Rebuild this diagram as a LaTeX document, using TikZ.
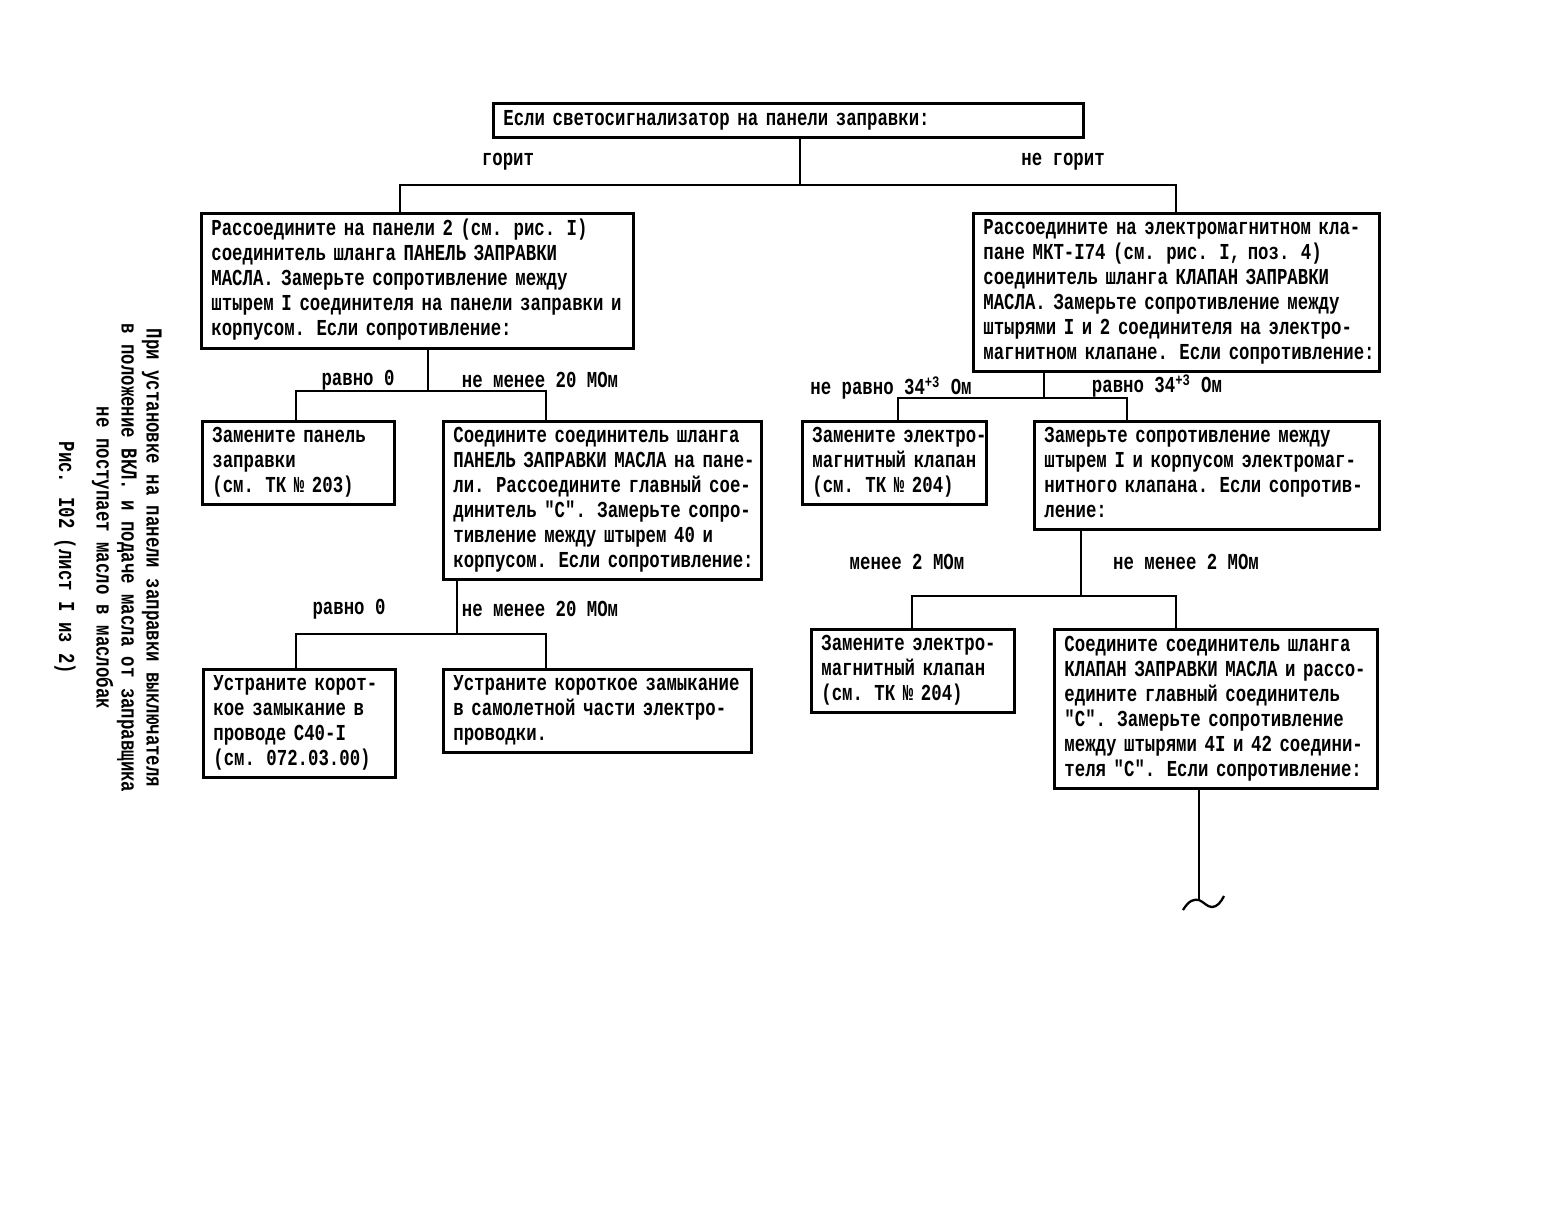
\documentclass[tikz,border=0pt]{standalone}
\usepackage{fontspec}
\newfontfamily\tw[FakeStretch=0.76]{Liberation Mono}
\newcommand{\twfont}{\tw\bfseries\fontsize{13}{14.23}\selectfont}
\newcommand{\boxtext}[1]{\begin{tabular}{@{}l@{}}#1\end{tabular}}

\tikzset{
  box/.style={draw, line width=1.6pt, anchor=north west, inner xsep=0.2cm,
    inner ysep=0pt, align=left, font=\twfont},
  lbl/.style={font=\twfont, inner sep=0pt},
  link/.style={line width=1.3pt},
}

\begin{document}
\begin{tikzpicture}[x=0.02cm, y=-0.02cm]
\useasboundingbox (0,0) rectangle (1544,1205);

% caption on the left
\node[lbl, rotate=-90, align=center] (cap) at (108,558)
  {При установке на панели заправки выключателя\\
   в положение ВКЛ. и подаче масла от заправщика\\
   не поступает масло в маслобак\\[0.25cm]
   Рис. I02 (лист I из 2)};

% first question
\node[box, text width=11.4cm, minimum height=0.68cm] (t0) at (492,102)
  {\boxtext{Если светосигнализатор на панели заправки:}};

\node[lbl] (yes) at (508,162) {горит};
\node[lbl] (no) at (1063,162) {не горит};

% left branch
\node[box, text width=8.24cm, minimum height=2.7cm] (l1) at (200,212)
  {\boxtext{Рассоедините на панели 2 (см. рис. I)\\
   соединитель шланга ПАНЕЛЬ ЗАПРАВКИ\\
   МАСЛА. Замерьте сопротивление между\\
   штырем I соединителя на панели заправки и\\
   корпусом. Если сопротивление:}};

\node[lbl] (l1a) at (358,380) {равно 0};
\node[lbl] (l1b) at (540,380) {не менее 20 МОм};

\node[box, text width=3.44cm, minimum height=1.66cm] (l2a) at (201,420)
  {\boxtext{Замените панель\\
   заправки\\
   (см. ТК № 203)}};

\node[box, text width=5.96cm, minimum height=3.16cm] (l2b) at (442,420)
  {\boxtext{Соедините соединитель шланга\\
   ПАНЕЛЬ ЗАПРАВКИ МАСЛА на пане-\\
   ли. Рассоедините главный сое-\\
   динитель "С". Замерьте сопро-\\
   тивление между штырем 40 и\\
   корпусом. Если сопротивление:}};

\node[lbl] (l2c) at (349,609) {равно 0};
\node[lbl] (l2d) at (540,609) {не менее 20 МОм};

\node[box, text width=3.44cm, minimum height=2.16cm] (l3a) at (202,668)
  {\boxtext{Устраните корот-\\
   кое замыкание в\\
   проводе С40-I\\
   (см. 072.03.00)}};

\node[box, text width=5.76cm, minimum height=1.66cm] (l3b) at (442,668)
  {\boxtext{Устраните короткое замыкание\\
   в самолетной части электро-\\
   проводки.}};

% right branch
\node[box, text width=7.72cm, minimum height=3.16cm] (r1) at (972,212)
  {\boxtext{Рассоедините на электромагнитном кла-\\
   пане МКТ-I74 (см. рис. I, поз. 4)\\
   соединитель шланга КЛАПАН ЗАПРАВКИ\\
   МАСЛА. Замерьте сопротивление между\\
   штырями I и 2 соединителя на электро-\\
   магнитном клапане. Если сопротивление:}};

\node[lbl] (r1a) at (891,388) {не равно 34\textsuperscript{+3} Ом};
\node[lbl] (r1b) at (1157,386) {равно 34\textsuperscript{+3} Ом};

\node[box, text width=3.28cm, minimum height=1.66cm] (r2a) at (801,420)
  {\boxtext{Замените электро-\\
   магнитный клапан\\
   (см. ТК № 204)}};

\node[box, text width=6.5cm, minimum height=2.16cm] (r2b) at (1033,420)
  {\boxtext{Замерьте сопротивление между\\
   штырем I и корпусом электромаг-\\
   нитного клапана. Если сопротив-\\
   ление:}};

\node[lbl] (r2c) at (907,562) {менее 2 МОм};
\node[lbl] (r2d) at (1186,562) {не менее 2 МОм};

\node[box, text width=3.66cm, minimum height=1.66cm] (r3a) at (810,628)
  {\boxtext{Замените электро-\\
   магнитный клапан\\
   (см. ТК № 204)}};

\node[box, text width=6.06cm, minimum height=3.18cm] (r3b) at (1053,628)
  {\boxtext{Соедините соединитель шланга\\
   КЛАПАН ЗАПРАВКИ МАСЛА и рассо-\\
   едините главный соединитель\\
   "С". Замерьте сопротивление\\
   между штырями 4I и 42 соедини-\\
   теля "С". Если сопротивление:}};

% connectors
\coordinate (j0) at (800,185);
\draw[link] (j0 |- t0.south) -- (j0);
\draw[link] (l1.north -| 400,0) |- (j0) -| (r1.north -| 1176,0);

\coordinate (j1) at (428,391);
\draw[link] (j1 |- l1.south) -- (j1);
\draw[link] (l2a.north -| 296,0) |- (j1) -| (l2b.north -| 546,0);

\coordinate (j2) at (457,634);
\draw[link] (j2 |- l2b.south) -- (j2);
\draw[link] (l3a.north -| 296,0) |- (j2) -| (l3b.north -| 546,0);

\coordinate (j3) at (1044,398);
\draw[link] (j3 |- r1.south) -- (j3);
\draw[link] (r2a.north -| 898,0) |- (j3) -| (r2b.north -| 1127,0);

\coordinate (j4) at (1081,596);
\draw[link] (j4 |- r2b.south) -- (j4);
\draw[link] (r3a.north -| 912,0) |- (j4) -| (r3b.north -| 1176,0);

% continued on next sheet
\coordinate (tail) at (1199,900);
\draw[link] (tail |- r3b.south) -- (tail);
\draw[link] ([shift={(-16,10)}]tail) .. controls +(6,-10) and +(-5,-1) .. (tail)
  .. controls +(5,2) and +(-5,0) .. ([shift={(13,7)}]tail)
  .. controls +(5,0) and +(-3,6) .. ([shift={(25,-4)}]tail);
\end{tikzpicture}
\end{document}
